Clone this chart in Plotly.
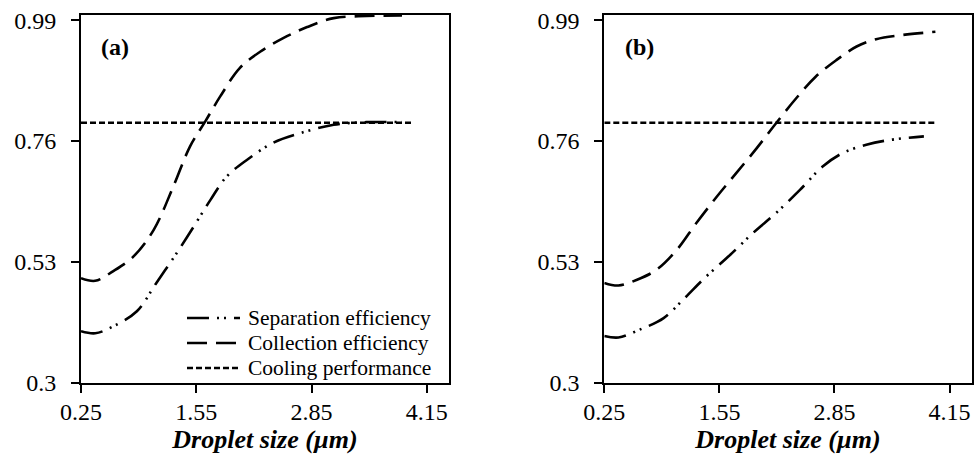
import plotly.graph_objects as go

# ---------------- data ----------------
# Panel (a)
x_a_coll = [0.25, 0.41, 0.61, 0.84, 1.07, 1.29, 1.48, 1.65, 1.82, 2.04, 2.27, 2.53, 2.80, 3.10, 3.47, 3.87]
y_a_coll = [0.499, 0.494, 0.512, 0.540, 0.591, 0.673, 0.750, 0.797, 0.845, 0.899, 0.930, 0.956, 0.977, 0.994, 0.998, 0.999]
x_a_sep = [0.25, 0.41, 0.61, 0.88, 1.10, 1.33, 1.52, 1.71, 1.89, 2.12, 2.42, 2.72, 3.10, 3.47, 3.87]
y_a_sep = [0.398, 0.394, 0.407, 0.436, 0.490, 0.547, 0.597, 0.648, 0.692, 0.724, 0.757, 0.775, 0.791, 0.796, 0.796]
x_a_cool = [0.25, 4.0]
y_a_cool = [0.795, 0.795]

# Panel (b)
x_b_coll = [0.25, 0.41, 0.62, 0.84, 1.07, 1.29, 1.52, 1.74, 1.97, 2.19, 2.42, 2.64, 2.87, 3.10, 3.32, 3.62, 3.99]
y_b_coll = [0.490, 0.485, 0.496, 0.515, 0.553, 0.604, 0.654, 0.699, 0.746, 0.794, 0.842, 0.883, 0.914, 0.940, 0.954, 0.962, 0.968]
x_b_sep = [0.25, 0.41, 0.65, 0.92, 1.14, 1.40, 1.67, 1.93, 2.19, 2.46, 2.72, 2.94, 3.21, 3.47, 3.86]
y_b_sep = [0.389, 0.386, 0.401, 0.423, 0.458, 0.502, 0.543, 0.585, 0.623, 0.667, 0.712, 0.737, 0.753, 0.762, 0.769]
x_b_cool = [0.25, 4.0]
y_b_cool = [0.795, 0.795]

x_ticks = [0.25, 1.55, 2.85, 4.15]
y_ticks = [0.3, 0.53, 0.76, 0.99]
series_names = ["Separation efficiency", "Collection efficiency", "Cooling performance"]
panel_labels = ["(a)", "(b)"]

# ---------------- styles ----------------
FONT = "Times New Roman, Liberation Serif, serif"
SEP_DASH = "22px,8px,2px,5px,2px,8px"
COLL_DASH = "20px,9px"
COOL_DASH = "6px,3px"
LW = 2.6

W, H = 977, 458
def px2paper_x(p):
    return p / W
def px2paper_y(p):
    return 1 - p / H

fig = go.Figure()

def add_panel(xs, ys, xc, yc, xk, yk, xa, ya):
    fig.add_trace(go.Scatter(x=xs, y=ys, mode="lines", line=dict(color="black", width=LW, dash=SEP_DASH, shape="spline", smoothing=1.0),
                             xaxis=xa, yaxis=ya, showlegend=False, name=series_names[0]))
    fig.add_trace(go.Scatter(x=xc, y=yc, mode="lines", line=dict(color="black", width=LW, dash=COLL_DASH, shape="spline", smoothing=1.0),
                             xaxis=xa, yaxis=ya, showlegend=False, name=series_names[1]))
    fig.add_trace(go.Scatter(x=xk, y=yk, mode="lines", line=dict(color="black", width=LW, dash=COOL_DASH),
                             xaxis=xa, yaxis=ya, showlegend=False, name=series_names[2]))

add_panel(x_a_sep, y_a_sep, x_a_coll, y_a_coll, x_a_cool, y_a_cool, "x", "y")
add_panel(x_b_sep, y_b_sep, x_b_coll, y_b_coll, x_b_cool, y_b_cool, "x2", "y2")

ydom = [px2paper_y(382.7), px2paper_y(15)]
axis_common = dict(showline=True, linecolor="black", linewidth=2, mirror=True, ticks="outside",
                   ticklen=8, tickwidth=2, tickcolor="black", showgrid=False, zeroline=False,
                   automargin=False, tickfont=dict(family=FONT, size=24, color="black"))
xtitle = dict(text="<b><i>Droplet size (µm)</i></b>", font=dict(family=FONT, size=26, color="black"), standoff=6)

fig.update_layout(
    width=W, height=H, margin=dict(l=0, r=0, t=0, b=0, autoexpand=False),
    paper_bgcolor="white", plot_bgcolor="white", showlegend=False,
    xaxis=dict(domain=[px2paper_x(81), px2paper_x(449)], range=[0.25, 4.4], tickvals=x_ticks,
               ticktext=[f"{v:.2f}" for v in x_ticks], anchor="y", title=xtitle, ticklabelstandoff=-2, **axis_common),
    yaxis=dict(domain=ydom, range=[0.3, 1.0], tickvals=y_ticks, ticktext=[f"{v:g}" for v in y_ticks],
               anchor="x", ticklabelstandoff=10, **axis_common),
    xaxis2=dict(domain=[px2paper_x(604.3), px2paper_x(971.7)], range=[0.25, 4.4], tickvals=x_ticks,
                ticktext=[f"{v:.2f}" for v in x_ticks], anchor="y2", title=xtitle, ticklabelstandoff=-2, **axis_common),
    yaxis2=dict(domain=ydom, range=[0.3, 1.0], tickvals=y_ticks, ticktext=[f"{v:g}" for v in y_ticks],
                anchor="x2", ticklabelstandoff=10, **axis_common),
)

# panel labels
for lbl, xref, yref in [(panel_labels[0], "x domain", "y domain"), (panel_labels[1], "x2 domain", "y2 domain")]:
    fig.add_annotation(text=f"<b>{lbl}</b>", xref=xref, yref=yref, x=0.05, y=0.912, xanchor="left", yanchor="middle",
                       showarrow=False, font=dict(family=FONT, size=24, color="black"))

# custom legend in panel (a)
leg_rows = [318, 343, 368]
dashes = [SEP_DASH, COLL_DASH, COOL_DASH]
for name, yr, d in zip(series_names, leg_rows, dashes):
    fig.add_shape(type="line", xref="paper", yref="paper", x0=px2paper_x(187), x1=px2paper_x(240),
                  y0=px2paper_y(yr), y1=px2paper_y(yr), line=dict(color="black", width=LW, dash=d))
    fig.add_annotation(text=name, xref="paper", yref="paper", x=px2paper_x(246), y=px2paper_y(yr),
                       xanchor="left", yanchor="middle", showarrow=False,
                       font=dict(family=FONT, size=21.5, color="black"))

fig.write_html("out.html")
